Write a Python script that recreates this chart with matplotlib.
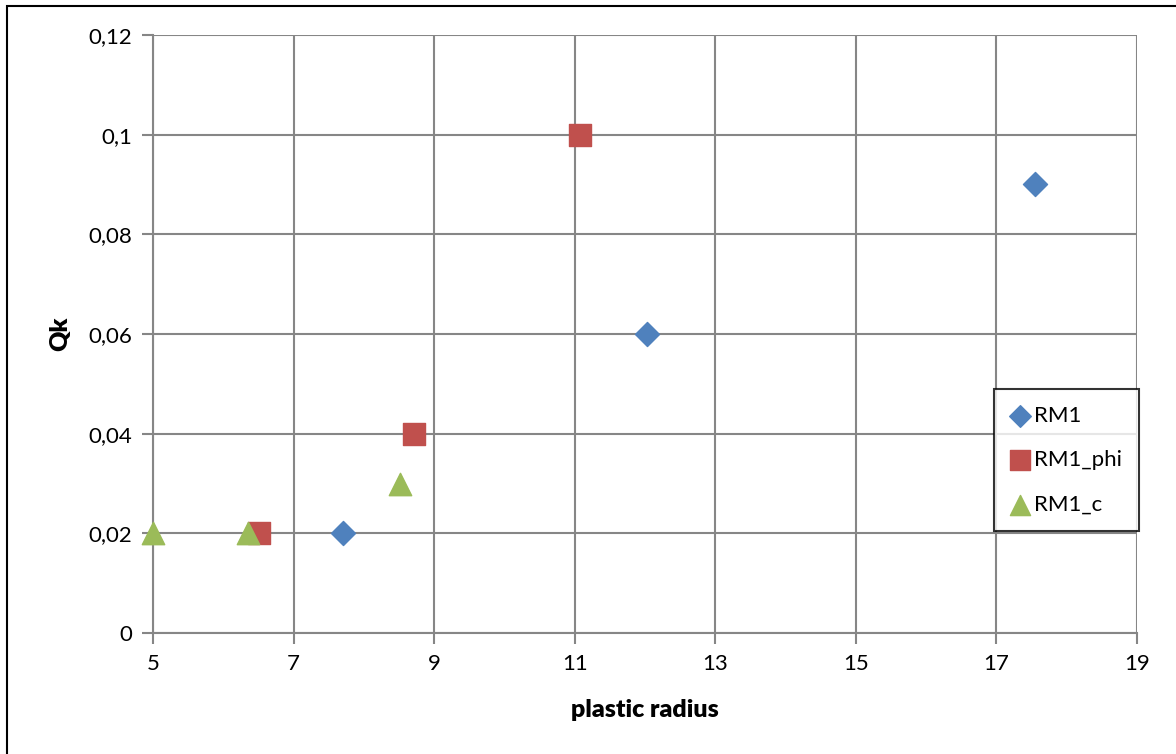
import matplotlib.pyplot as plt
from matplotlib.patches import Rectangle
from matplotlib.ticker import FuncFormatter

# ========== Data ==========
rm1_x = [7.7, 12.03, 17.55]
rm1_y = [0.02, 0.06, 0.09]

rm1_phi_x = [6.51, 8.71, 11.07]
rm1_phi_y = [0.02, 0.04, 0.10]

rm1_c_x = [5.0, 6.35, 8.52]
rm1_c_y = [0.02, 0.02, 0.03]

x_ticks = [5, 7, 9, 11, 13, 15, 17, 19]
y_ticks = [0, 0.02, 0.04, 0.06, 0.08, 0.10, 0.12]

# ========== Figure ==========
plt.rcParams['font.family'] = ['Lato', 'DejaVu Sans']

fig = plt.figure(figsize=(11.76, 7.54), dpi=100)
ax = fig.add_axes([153 / 1176, 121 / 754, 984 / 1176, 598 / 754])

# outer chart frame (runs off the right and bottom edge)
fig.patches.append(Rectangle((7 / 1176, -0.05), 1.2, 0.05 + 748 / 754,
                             transform=fig.transFigure, fill=False,
                             edgecolor='black', linewidth=1.5, zorder=0))

grid_c = '#868686'
ax.scatter(rm1_x, rm1_y, marker='D', s=150, color='#4F81BD', label='RM1',
           zorder=3, clip_on=False)
ax.scatter(rm1_phi_x, rm1_phi_y, marker='s', s=250, color='#C0504D', label='RM1_phi',
           zorder=3, clip_on=False)
ax.scatter(rm1_c_x, rm1_c_y, marker='^', s=260, color='#9BBB59', label='RM1_c',
           zorder=4, clip_on=False)

ax.set_xlim(5, 19)
ax.set_ylim(0, 0.12)
ax.set_xticks(x_ticks)
ax.set_yticks(y_ticks)
ax.yaxis.set_major_formatter(FuncFormatter(lambda v, p: '0' if v == 0 else f'{v:g}'.replace('.', ',')))
ax.grid(True, color=grid_c, linewidth=1.5)
ax.set_axisbelow(True)

for side in ['top', 'right']:
    ax.spines[side].set_visible(False)
for side in ['left', 'bottom']:
    ax.spines[side].set_color(grid_c)
    ax.spines[side].set_linewidth(1.5)

ax.tick_params(axis='both', direction='out', length=8, width=1.5, color=grid_c,
               labelsize=16, pad=7)

ax.set_xlabel('plastic radius', fontsize=18, fontweight='heavy', labelpad=18)
ax.set_ylabel('Qk', fontsize=18, fontweight='heavy', labelpad=12)

leg = ax.legend(loc='upper left', bbox_to_anchor=(841 / 984, (633 - 389) / 598),
                borderaxespad=0, frameon=True, fancybox=False, fontsize=16,
                handletextpad=0.25, labelspacing=1.1, borderpad=0.75,
                handlelength=0.8, scatterpoints=1, markerscale=0.9)
leg.get_frame().set_edgecolor('black')
leg.get_frame().set_linewidth(1.5)

fig.savefig('out.png', dpi=100)
